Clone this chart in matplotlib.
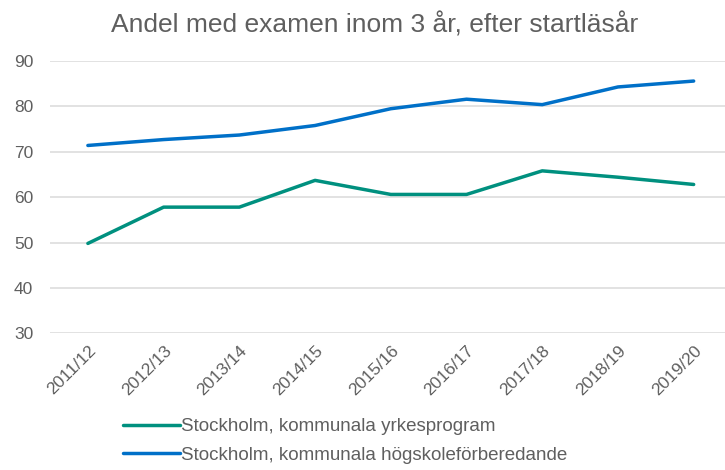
import matplotlib
matplotlib.use("Agg")
import matplotlib.pyplot as plt

plt.rcParams['font.family'] = ['Liberation Sans', 'DejaVu Sans']

# startläsår
years = ['2011/12', '2012/13', '2013/14', '2014/15', '2015/16',
         '2016/17', '2017/18', '2018/19', '2019/20']
# andel med examen inom 3 år (%)
yrkes = [49.8, 57.8, 57.8, 63.7, 60.6, 60.6, 65.8, 64.4, 62.8]
hogskole = [71.4, 72.7, 73.7, 75.8, 79.5, 81.6, 80.4, 84.3, 85.6]

names = ['Stockholm, kommunala yrkesprogram',
         'Stockholm, kommunala högskoleförberedande']
colors = ['#00907F', '#0070C8']
textcol = '#5f5f5f'

fig = plt.figure(figsize=(7.25, 4.7), dpi=100)
ax = fig.add_axes([0.069, 0.291, 0.94, 0.579])

x = list(range(len(years)))
ax.plot(x, yrkes, color=colors[0], lw=2.5, label=names[0], solid_capstyle='round')
ax.plot(x, hogskole, color=colors[1], lw=2.5, label=names[1], solid_capstyle='round')

ax.set_xlim(-0.5, len(years) - 0.5)
ax.set_ylim(30, 90)
ax.set_yticks(range(30, 91, 10))
ax.set_xticks(x)
ax.set_xticklabels(years, rotation=45, ha='right', rotation_mode='anchor')
ax.tick_params(axis='y', length=0, labelsize=12.5, colors=textcol, pad=12)
ax.tick_params(axis='x', length=0, labelsize=12.5, colors=textcol, pad=7)
ax.grid(axis='y', color='#DDDDDD', lw=1.2)
ax.set_axisbelow(True)
for s in ax.spines.values():
    s.set_visible(False)

fig.text(0.517, 0.947, 'Andel med examen inom 3 år, efter startläsår',
         ha='center', va='center', fontsize=19, color=textcol)

leg = fig.legend(loc='upper left', bbox_to_anchor=(0.17, 0.11), frameon=False,
                 fontsize=13.5, handlelength=3.0, handletextpad=0.1,
                 labelspacing=0.6, borderaxespad=0, borderpad=0)
for t in leg.get_texts():
    t.set_color(textcol)

fig.savefig('out.png', dpi=100)
